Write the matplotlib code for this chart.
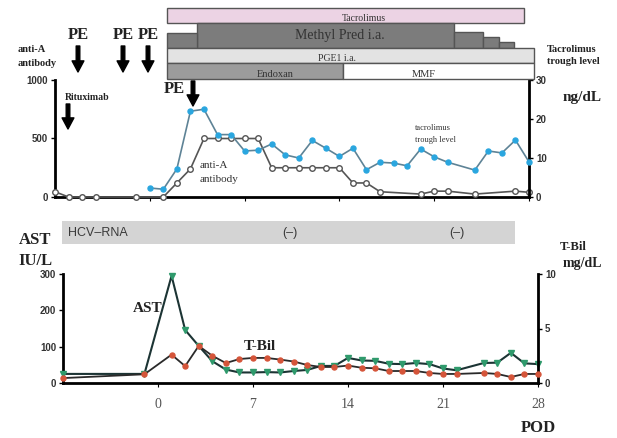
import numpy as np
import matplotlib
matplotlib.use('Agg')
import matplotlib.pyplot as plt
from matplotlib.patches import Rectangle
from matplotlib.transforms import blended_transform_factory

# ---------------- DATA ----------------
# anti-A antibody titre (top chart, left axis)
anti_days = [-7, -6, -5, -4, -1, 1, 2, 3, 4, 5, 6, 7, 8, 9, 10, 11, 12, 13, 14,
             15, 16, 17, 20, 21, 22, 24, 27, 28]
anti_vals = [45, 0, 0, 0, 0, 0, 120, 240, 500, 500, 500, 500, 500, 250, 250, 250,
             250, 250, 250, 120, 120, 45, 25, 50, 50, 25, 50, 40]

# tacrolimus trough level (top chart, right axis)
tac_days = [0, 1, 2, 3, 4, 5, 6, 7, 8, 9, 10, 11, 12, 13, 14, 15, 16, 17, 18, 19,
            20, 21, 22, 24, 25, 26, 27, 28]
tac_vals = [2.3, 2.0, 7.2, 22.0, 22.5, 16.0, 16.0, 11.8, 12.0, 13.6, 10.8, 10.0,
            14.5, 12.5, 10.4, 12.5, 7.0, 8.9, 8.7, 8.0, 12.3, 10.3, 8.9, 6.9,
            11.8, 11.3, 14.6, 9.0]

# AST (bottom chart, left axis) and T-Bil (bottom chart, right axis)
liver_days = [-7, -1, 1, 2, 3, 4, 5, 6, 7, 8, 9, 10, 11, 12, 13, 14, 15, 16, 17,
              18, 19, 20, 21, 22, 24, 25, 26, 27, 28]
ast_vals = [25, 25, 295, 146, 102, 60, 37, 29, 29, 30, 29, 33, 36, 47, 47, 69, 62,
            61, 53, 52, 55, 52, 40, 35, 55, 56, 83, 54, 52]
tbil_vals = [0.45, 0.8, 2.6, 1.55, 3.4, 2.5, 1.83, 2.2, 2.3, 2.3, 2.15, 1.97, 1.65,
             1.47, 1.47, 1.6, 1.4, 1.35, 1.1, 1.1, 1.1, 0.92, 0.83, 0.83, 0.92,
             0.83, 0.55, 0.83, 0.83]

# treatment schedule (days, row top/bottom as pixel rows of the band area)
drug_names  = ['Tacrolimus', 'Methyl Pred i.a.', '', '', '', '', 'PGE1 i.a.', 'Endoxan', 'MMF']
drug_start  = [1.3, 3.5, 1.3, 22.45, 24.6, 25.8, 1.3, 1.3, 14.3]
drug_end    = [27.65, 22.45, 3.5, 24.6, 25.8, 26.9, 28.4, 14.3, 28.4]
drug_label  = [15.8, 14.05, 0, 0, 0, 0, 13.85, 9.25, 20.2]
drug_top    = [8, 23, 33, 32, 37, 42, 48, 63, 63]
drug_bottom = [23, 48, 48, 48, 48, 48, 63, 79, 79]
drug_colors = ['#ecd3e4', '#7c7c7c', '#7c7c7c', '#7c7c7c', '#7c7c7c', '#7c7c7c',
               '#e3e3e3', '#9c9c9c', '#ffffff']
drug_fs     = [7, 10, 7, 7, 7, 7, 7, 7.5, 7.5]

xticks = [0, 7, 14, 21, 28]

SERIF = 'Liberation Serif'
SANS = 'Liberation Sans'

W, H = 617, 438
fig = plt.figure(figsize=(W / 100, H / 100), dpi=100)


def box(l, t, r, b):
    # pixel box -> figure fraction rect
    return [l / W, 1 - b / H, (r - l) / W, (b - t) / H]


def style_axes(ax, axr):
    ax.spines['top'].set_visible(False)
    axr.spines['top'].set_visible(False)
    ax.spines['left'].set_linewidth(2)
    axr.spines['right'].set_linewidth(2)
    ax.spines['bottom'].set_linewidth(2)
    axr.spines['left'].set_visible(False)
    axr.spines['bottom'].set_visible(False)
    for a in (ax, axr):
        a.tick_params(axis='y', direction='out', length=3, width=1, pad=2,
                      labelsize=7, labelcolor='#333333')
        for t in a.get_yticklabels():
            t.set_fontfamily(SANS)
            t.set_fontweight('bold')


# ---------------- TOP CHART ----------------
ax1 = fig.add_axes(box(55, 80, 529, 197))
ax1r = ax1.twinx()
ax1.set_xlim(-7, 28)
ax1.set_ylim(0, 1000)
ax1r.set_ylim(0, 30)
ax1.set_yticks([0, 500, 1000])
ax1r.set_yticks([0, 10, 20, 30])
ax1.set_xticks(xticks)
ax1.tick_params(axis='x', direction='out', length=3, labelbottom=False)

ax1r.plot(tac_days, tac_vals, color='#5e8396', lw=1.2, marker='o', ms=3.6,
          mfc='#2aa6df', mec='#2aa6df', clip_on=False, zorder=3)
ax1.plot(anti_days, anti_vals, color='#555555', lw=1.2, marker='o', ms=4,
         mfc='white', mec='#555555', mew=1, clip_on=False, zorder=3)
style_axes(ax1, ax1r)

# treatment bars above the top chart, sharing its day axis
axb = fig.add_axes(box(55, 0, 529, 80), sharex=ax1)
axb.set_ylim(80, 0)
axb.axis('off')
for name, s, e, lx, t, b, c, fs in zip(drug_names, drug_start, drug_end, drug_label,
                                       drug_top, drug_bottom, drug_colors, drug_fs):
    axb.add_patch(Rectangle((s, t), e - s, b - t, facecolor=c, edgecolor='#555555',
                            lw=1, clip_on=False))
    if name:
        ty = (t + b) / 2 if name == 'Methyl Pred i.a.' else b - 4.5
        axb.text(lx, ty, name, ha='center', va='center', fontsize=fs,
                 family=SERIF, color='#333333', clip_on=False)

# ---------------- BOTTOM CHART ----------------
ax2 = fig.add_axes(box(63, 274, 538, 383))
ax2r = ax2.twinx()
ax2.set_xlim(-7, 28)
ax2.set_ylim(0, 300)
ax2r.set_ylim(0, 10)
ax2.set_yticks([0, 100, 200, 300])
ax2r.set_yticks([0, 5, 10])
ax2.set_xticks(xticks)
ax2.set_xticklabels([str(d) for d in xticks], family=SERIF, fontsize=10, color='#555555')
ax2.tick_params(axis='x', direction='out', length=3, pad=8)

ax2r.plot(liver_days, tbil_vals, color='#2a2a2a', lw=1.3, marker='o', ms=3.6,
          mfc='#d5553a', mec='#d5553a', clip_on=False, zorder=3)
ax2.plot(liver_days, ast_vals, color='#1c3434', lw=1.5, marker='v', ms=5,
         mfc='#2f9a6c', mec='#2f9a6c', clip_on=False, zorder=3)
ax2r.set_zorder(ax2.get_zorder() + 1)
style_axes(ax2, ax2r)

# HCV-RNA band
tr = blended_transform_factory(ax2.transData, ax2.transAxes)
ax2.add_patch(Rectangle((-7.05, 1.275), 33.35, 0.21, transform=tr, facecolor='#d4d4d4',
                        edgecolor='none', clip_on=False))

# ---------------- FREE TEXT / ARROWS (pixel overlay) ----------------
ov = fig.add_axes([0, 0, 1, 1], facecolor='none')
ov.set_xlim(0, W)
ov.set_ylim(H, 0)
ov.axis('off')

bold = dict(family=SERIF, fontweight='bold', color='#222222')
arrow = dict(width=2.6, headwidth=8.5, headlength=8, color='black')

ov.text(18, 50, 'anti-A', fontsize=7.5, ha='left', va='center', **bold)
ov.text(18, 63, 'antibody', fontsize=7.5, ha='left', va='center', **bold)
for px in [78, 123, 148]:
    ov.text(px, 35, 'PE', fontsize=12, ha='center', va='center', **bold)
    ov.annotate('', xy=(px, 72), xytext=(px, 46), arrowprops=arrow)
ov.text(174, 89, 'PE', fontsize=12, ha='center', va='center', **bold)
ov.annotate('', xy=(193, 106), xytext=(193, 81), arrowprops=arrow)
ov.text(65, 98, 'Rituximab', fontsize=7, ha='left', va='center', **bold)
ov.annotate('', xy=(68, 129), xytext=(68, 104), arrowprops=arrow)

ov.text(200, 165, 'anti-A', fontsize=8, ha='left', va='center', family=SERIF, color='#333333')
ov.text(200, 179, 'antibody', fontsize=8, ha='left', va='center', family=SERIF, color='#333333')
ov.text(415, 128, 'tacrolimus', fontsize=6, ha='left', va='center', family=SERIF, color='#333333')
ov.text(415, 140, 'trough level', fontsize=6, ha='left', va='center', family=SERIF, color='#333333')
ov.text(547, 49, 'Tacrolimus', fontsize=7.5, ha='left', va='center', **bold)
ov.text(547, 62, 'trough level', fontsize=7.5, ha='left', va='center', **bold)
ov.text(563, 97, 'ng/dL', fontsize=11, ha='left', va='center', **bold)

ov.text(68, 233, 'HCV\u2013RNA', fontsize=9, ha='left', va='center', family=SANS, color='#3a3a3a')
ov.text(290, 233, '(\u2013)', fontsize=9, ha='center', va='center', family=SANS, color='#3a3a3a')
ov.text(457, 233, '(\u2013)', fontsize=9, ha='center', va='center', family=SANS, color='#3a3a3a')

ov.text(35, 240, 'AST', fontsize=12, ha='center', va='center', **bold)
ov.text(35, 261, 'IU/L', fontsize=12, ha='center', va='center', **bold)
ov.text(560, 247, 'T-Bil', fontsize=9, ha='left', va='center', **bold)
ov.text(563, 264, 'mg/dL', fontsize=10, ha='left', va='center', **bold)
ov.text(148, 308, 'AST', fontsize=11, ha='center', va='center', **bold)
ov.text(260, 346, 'T-Bil', fontsize=11, ha='center', va='center', **bold)
ov.text(538, 428, 'POD', fontsize=12, ha='center', va='center', **bold)

fig.savefig('out.png', dpi=100)
